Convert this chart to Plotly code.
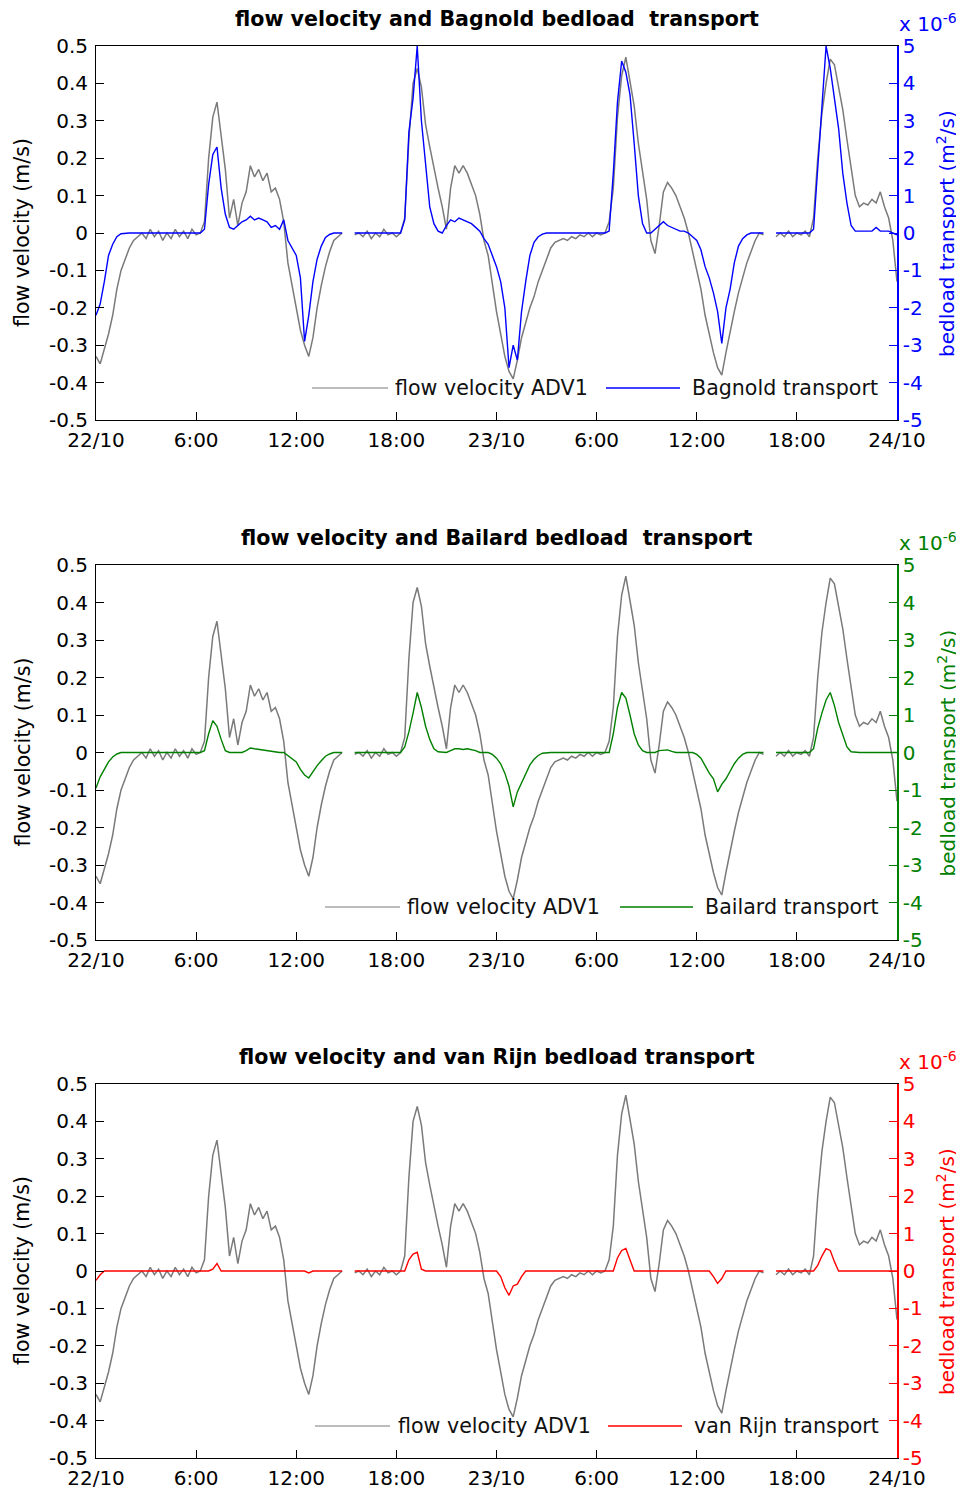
import plotly.graph_objects as go
from plotly.subplots import make_subplots

# ---------------- data (sampled every 15 min from 22/10 00:00 to 24/10 00:00) ----------------
STEP_H = 0.25

velocity = [
    -0.33, -0.35, -0.31, -0.27, -0.22, -0.15, -0.10, -0.07,      # 0-2 h
    -0.04, -0.02, -0.01, 0.00, -0.015, 0.01, -0.01, 0.005,       # 2-4
    -0.02, 0.00, -0.015, 0.01, -0.01, 0.005, -0.015, 0.01,       # 4-6
    -0.005, 0.00, 0.03, 0.20, 0.31, 0.35, 0.26, 0.17,            # 6-8
    0.04, 0.09, 0.02, 0.08, 0.11, 0.18, 0.15, 0.17,              # 8-10
    0.14, 0.16, 0.11, 0.12, 0.09, 0.03, -0.08, -0.14,            # 10-12
    -0.20, -0.26, -0.30, -0.33, -0.28, -0.20, -0.14, -0.09,      # 12-14
    -0.05, -0.02, -0.01, 0.00, None, None, -0.005, 0.00,         # 14-16
    -0.01, 0.005, -0.015, 0.00, -0.01, 0.01, -0.005, 0.00,       # 16-18
    -0.01, 0.00, 0.04, 0.25, 0.40, 0.44, 0.39, 0.29,             # 18-20
    0.23, 0.17, 0.12, 0.07, 0.01, 0.12, 0.18, 0.16,              # 20-22
    0.18, 0.16, 0.13, 0.10, 0.05, -0.02, -0.06, -0.14,           # 22-24
    -0.21, -0.27, -0.33, -0.37, -0.39, -0.34, -0.28, -0.24,      # 24-26
    -0.20, -0.17, -0.13, -0.10, -0.07, -0.04, -0.025, -0.02,     # 26-28
    -0.015, -0.02, -0.01, -0.015, -0.005, -0.01, 0.00, -0.01,    # 28-30
    0.00, -0.005, 0.00, 0.03, 0.12, 0.31, 0.42, 0.47,            # 30-32
    0.40, 0.34, 0.24, 0.17, 0.09, -0.02, -0.055, 0.02,           # 32-34
    0.11, 0.135, 0.12, 0.10, 0.07, 0.04, 0.00, -0.05,            # 34-36
    -0.10, -0.15, -0.22, -0.27, -0.32, -0.36, -0.38, -0.32,      # 36-38
    -0.26, -0.21, -0.16, -0.12, -0.08, -0.05, -0.02, 0.00,       # 38-40
    -0.005, None, None, -0.01, 0.00, -0.01, 0.005, -0.01,        # 40-42
    0.00, -0.005, 0.005, -0.01, 0.04, 0.20, 0.32, 0.40,          # 42-44
    0.465, 0.45, 0.39, 0.33, 0.25, 0.17, 0.10, 0.07,             # 44-46
    0.08, 0.075, 0.09, 0.08, 0.11, 0.07, 0.04, -0.02,            # 46-48
    -0.13,
]

# transport in units of 1e-6 m^2/s
bagnold = [
    -2.2, -1.9, -1.3, -0.6, -0.3, -0.1, -0.02, 0,
    0, 0, 0, 0, 0, 0, 0, 0,
    0, 0, 0, 0, 0, 0, 0, 0,
    0, 0, 0.1, 1.3, 2.1, 2.3, 1.2, 0.5,
    0.15, 0.1, 0.2, 0.3, 0.35, 0.45, 0.35, 0.4,
    0.35, 0.3, 0.15, 0.2, 0.1, 0.35, -0.2, -0.4,
    -0.6, -1.2, -2.9, -2.2, -1.3, -0.7, -0.35, -0.12,
    -0.04, 0, 0, 0, None, None, 0, 0,
    0, 0, 0, 0, 0, 0, 0, 0,
    0, 0, 0.35, 2.7, 3.6, 5.0, 3.0, 1.8,
    0.7, 0.25, 0.05, 0.0, 0.2, 0.35, 0.3, 0.4,
    0.35, 0.3, 0.25, 0.15, 0.05, -0.15, -0.3, -0.6,
    -0.9, -1.3, -2.0, -3.6, -3.0, -3.4, -2.1, -1.3,
    -0.6, -0.25, -0.1, -0.03, 0, 0, 0, 0,
    0, 0, 0, 0, 0, 0, 0, 0,
    0, 0, 0, 0.05, 1.6, 3.5, 4.6, 4.3,
    3.7, 2.4, 1.0, 0.25, 0, 0, 0.1, 0.2,
    0.3, 0.2, 0.15, 0.1, 0.05, 0.05, 0, -0.1,
    -0.2, -0.45, -0.9, -1.2, -1.6, -2.1, -2.95, -2.0,
    -1.5, -0.8, -0.35, -0.15, -0.05, 0, 0, 0,
    0, None, None, 0, 0, 0, 0, 0,
    0, 0, 0, 0, 0.1, 1.7, 3.3, 5.0,
    4.4, 3.6, 2.8, 1.6, 0.8, 0.2, 0.05, 0.05,
    0.05, 0.05, 0.05, 0.15, 0.05, 0.05, 0.05, 0.0,
    -0.05,
]

bailard = [
    -0.95, -0.65, -0.45, -0.25, -0.12, -0.04, 0, 0,
    0, 0, 0, 0, 0, 0, 0, 0,
    0, 0, 0, 0, 0, 0, 0, 0,
    0, 0, 0.05, 0.5, 0.85, 0.7, 0.35, 0.05,
    0, 0, 0, 0, 0.05, 0.12, 0.1, 0.08,
    0.08, 0.05, 0.02, 0, 0, 0, -0.08, -0.15,
    -0.25, -0.45, -0.6, -0.68, -0.5, -0.35, -0.22, -0.1,
    -0.04, 0, 0, 0, None, None, 0, 0,
    0, 0, 0, 0, 0, 0, 0, 0,
    0, 0, 0.15, 0.55, 1.05, 1.6, 1.2, 0.7,
    0.35, 0.1, 0.02, 0, 0, 0.05, 0.1, 0.1,
    0.08, 0.1, 0.08, 0.05, 0, 0, 0, -0.05,
    -0.15, -0.3, -0.55, -0.9, -1.45, -1.05, -0.8, -0.55,
    -0.33, -0.18, -0.08, -0.02, 0, 0, 0, 0,
    0, 0, 0, 0, 0, 0, 0, 0,
    0, 0, 0, 0, 0.5, 1.2, 1.6, 1.45,
    1.0, 0.5, 0.2, 0.05, 0, 0, 0, 0.05,
    0.07, 0.07, 0.03, 0, 0, 0, 0, 0,
    -0.05, -0.15, -0.35, -0.55, -0.7, -1.05, -0.85, -0.7,
    -0.5, -0.3, -0.15, -0.05, 0, 0, 0, 0,
    0, None, None, 0, 0, 0, 0, 0,
    0, 0, 0, 0, 0.1, 0.65, 1.05, 1.4,
    1.6, 1.25, 0.8, 0.45, 0.15, 0.02, 0, 0,
    0, 0, 0, 0, 0, 0, 0, 0,
    0,
]

vanrijn = [
    -0.25, -0.1, 0, 0, 0, 0, 0, 0,
    0, 0, 0, 0, 0, 0, 0, 0,
    0, 0, 0, 0, 0, 0, 0, 0,
    0, 0, 0, 0, 0.05, 0.2, 0, 0,
    0, 0, 0, 0, 0, 0, 0, 0,
    0, 0, 0, 0, 0, 0, 0, 0,
    0, 0, 0, -0.05, 0, 0, 0, 0,
    0, 0, 0, 0, None, None, 0, 0,
    0, 0, 0, 0, 0, 0, 0, 0,
    0, 0, 0, 0.3, 0.45, 0.5, 0.05, 0,
    0, 0, 0, 0, 0, 0, 0, 0,
    0, 0, 0, 0, 0, 0, 0, 0,
    0, -0.15, -0.45, -0.65, -0.4, -0.35, -0.15, 0,
    0, 0, 0, 0, 0, 0, 0, 0,
    0, 0, 0, 0, 0, 0, 0, 0,
    0, 0, 0, 0, 0, 0.35, 0.55, 0.6,
    0.3, 0, 0, 0, 0, 0, 0, 0,
    0, 0, 0, 0, 0, 0, 0, 0,
    0, 0, 0, 0, -0.15, -0.33, -0.2, 0,
    0, 0, 0, 0, 0, 0, 0, 0,
    0, None, None, 0, 0, 0, 0, 0,
    0, 0, 0, 0, 0, 0.15, 0.4, 0.6,
    0.55, 0.25, 0, 0, 0, 0, 0, 0,
    0, 0, 0, 0, 0, 0, 0, 0,
    0,
]

hours = [i * STEP_H for i in range(len(velocity))]

x_tickvals = [0, 6, 12, 18, 24, 30, 36, 42, 48]
x_ticktext = ["22/10", "6:00", "12:00", "18:00", "23/10", "6:00", "12:00", "18:00", "24/10"]
v_tickvals = [-0.5, -0.4, -0.3, -0.2, -0.1, 0, 0.1, 0.2, 0.3, 0.4, 0.5]
v_ticktext = ["-0.5", "-0.4", "-0.3", "-0.2", "-0.1", "0", "0.1", "0.2", "0.3", "0.4", "0.5"]
t_tickvals = [-5, -4, -3, -2, -1, 0, 1, 2, 3, 4, 5]
t_ticktext = ["-5", "-4", "-3", "-2", "-1", "0", "1", "2", "3", "4", "5"]

titles = ["flow velocity and Bagnold bedload\u00a0 transport",
          "flow velocity and Bailard bedload\u00a0 transport",
          "flow velocity and van Rijn bedload transport"]
transport_names = ["Bagnold transport", "Bailard transport", "van Rijn transport"]
transports = [bagnold, bailard, vanrijn]
colors = ["#0000ff", "#008000", "#ff0000"]
velocity_name = "flow velocity ADV1"

# ---------------- layout geometry (page pixels; the page body has an 8 px margin) ----------------
OFF = 8
W, H = 964 - OFF, 1494 - OFF
L, R = 96, 897            # page x of plot area
TOP, BOT = 46, 1458       # page y of plot area
panels = [(46, 420), (565, 940), (1084, 1458)]
legend_px = [  # (gray line x0,x1, text x, colored line x0,x1, text x, y)
    (312, 388, 393, 606, 680, 690, 388),
    (325, 400, 405, 620, 693, 703, 907),
    (315, 390, 396, 608, 682, 692, 1426),
]


def px(x):
    return (x - L) / (R - L)


def py(y):
    return (BOT - y) / (BOT - TOP)


FONT = "DejaVu Sans"
fig = make_subplots(rows=3, cols=1, specs=[[{"secondary_y": True}]] * 3)

for i in range(3):
    row = i + 1
    fig.add_trace(go.Scatter(x=hours, y=velocity, mode="lines", name=velocity_name,
                             line=dict(color="#7a7a7a", width=1.5), showlegend=False,
                             connectgaps=False),
                  row=row, col=1, secondary_y=False)
    fig.add_trace(go.Scatter(x=hours, y=transports[i], mode="lines", name=transport_names[i],
                             line=dict(color=colors[i], width=1.4), showlegend=False,
                             connectgaps=False),
                  row=row, col=1, secondary_y=True)

annotations = []
shapes = []
for i, (top, bot) in enumerate(panels):
    dom = [py(bot), py(top)]
    xname = "xaxis" if i == 0 else f"xaxis{i + 1}"
    yprim = "yaxis" if i == 0 else f"yaxis{2 * i + 1}"
    ysec = f"yaxis{2 * i + 2}"
    fig.layout[xname].update(
        domain=[0, 1], automargin=False,
        range=[0, 48], tickvals=x_tickvals, ticktext=x_ticktext, ticks="inside", ticklen=8,
        tickcolor="black", showline=True, linecolor="black", linewidth=1, mirror=True,
        showgrid=False, zeroline=False, tickfont=dict(family=FONT, size=20, color="black"),
        ticklabelstandoff=2)
    fig.layout[yprim].update(
        domain=dom, automargin=False, range=[-0.5, 0.5], tickvals=v_tickvals,
        ticktext=v_ticktext,
        ticks="inside", ticklen=8, tickcolor="black", showline=True, linecolor="black",
        linewidth=1, showgrid=False, zeroline=False,
        tickfont=dict(family=FONT, size=20, color="black"), ticklabelstandoff=3)
    fig.layout[ysec].update(
        automargin=False, range=[-5, 5], tickvals=t_tickvals, ticktext=t_ticktext,
        ticks="inside", ticklen=8,
        tickcolor=colors[i], showline=True, linecolor=colors[i], linewidth=1.5,
        showgrid=False, zeroline=False,
        tickfont=dict(family=FONT, size=20, color=colors[i]), ticklabelstandoff=0)

    # title
    annotations.append(dict(text="<b>" + titles[i] + "</b>", x=px(496.5), y=py(top - 27),
                            xref="paper", yref="paper", showarrow=False, xanchor="center",
                            yanchor="middle", font=dict(family=FONT, size=20.6, color="black")))
    # exponent label
    annotations.append(dict(text="x 10<sup>-6</sup>", x=px(897), y=py(top - 23),
                            xref="paper", yref="paper", showarrow=False, xanchor="left",
                            yanchor="middle", font=dict(family=FONT, size=20, color=colors[i])))
    # axis titles
    mid = (top + bot) / 2
    annotations.append(dict(text="flow velocity (m/s)", x=px(22), y=py(mid), xref="paper",
                            yref="paper", showarrow=False, textangle=-90, xanchor="center",
                            yanchor="middle", font=dict(family=FONT, size=20.5, color="black")))
    annotations.append(dict(text="bedload transport (m<sup>2</sup>/s)", x=px(946), y=py(mid),
                            xref="paper", yref="paper", showarrow=False, textangle=-90,
                            xanchor="center", yanchor="middle",
                            font=dict(family=FONT, size=20, color=colors[i])))
    # manual legend
    gx0, gx1, gtx, cx0, cx1, ctx, ly = legend_px[i]
    shapes.append(dict(type="line", xref="paper", yref="paper", x0=px(gx0), x1=px(gx1),
                       y0=py(ly), y1=py(ly), line=dict(color="#7a7a7a", width=1.2)))
    shapes.append(dict(type="line", xref="paper", yref="paper", x0=px(cx0), x1=px(cx1),
                       y0=py(ly), y1=py(ly), line=dict(color=colors[i], width=1.4)))
    annotations.append(dict(text=velocity_name, x=px(gtx), y=py(ly), xref="paper", yref="paper",
                            showarrow=False, xanchor="left", yanchor="middle",
                            font=dict(family=FONT, size=20.6, color="#111111")))
    annotations.append(dict(text=transport_names[i], x=px(ctx), y=py(ly), xref="paper",
                            yref="paper", showarrow=False, xanchor="left", yanchor="middle",
                            font=dict(family=FONT, size=20.6, color="#111111")))

fig.update_layout(
    width=W, height=H, autosize=False,
    margin=dict(l=L - OFF, r=W - (R - OFF), t=TOP - OFF, b=H - (BOT - OFF), pad=0,
                autoexpand=False),
    paper_bgcolor="white", plot_bgcolor="white",
    showlegend=False, annotations=annotations, shapes=shapes,
)

fig.write_html("out.html",
               post_script="document.documentElement.style.overflow='hidden';")
